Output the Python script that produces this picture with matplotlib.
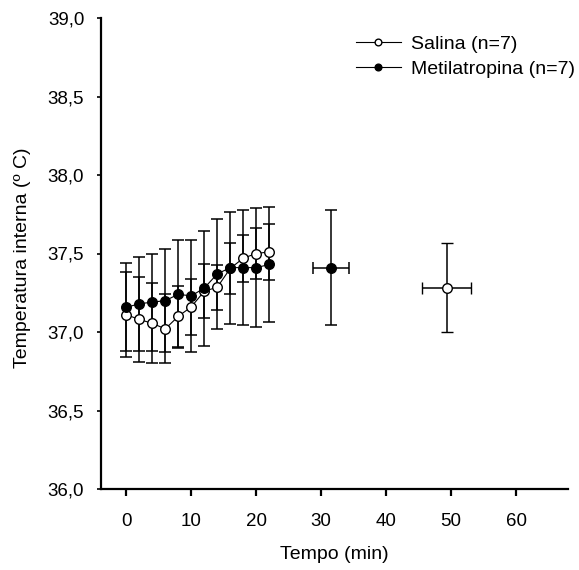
import matplotlib
matplotlib.use('Agg')
import matplotlib.pyplot as plt

plt.rcParams['font.family'] = ['Liberation Sans', 'DejaVu Sans']

# Time course (min)
tempo = [0, 2, 4, 6, 8, 10, 12, 14, 16, 18, 20, 22]

# Salina (n=7): mean and error
salina = [37.11, 37.08, 37.055, 37.02, 37.10, 37.16, 37.26, 37.285, 37.405, 37.47, 37.50, 37.51]
salina_err = [0.27, 0.27, 0.255, 0.22, 0.195, 0.18, 0.17, 0.143, 0.165, 0.15, 0.16, 0.178]

# Metilatropina (n=7): mean and error
metil = [37.157, 37.18, 37.19, 37.20, 37.24, 37.23, 37.28, 37.37, 37.41, 37.41, 37.41, 37.43]
metil_err = [0.28, 0.30, 0.31, 0.33, 0.345, 0.357, 0.366, 0.35, 0.357, 0.366, 0.377, 0.368]

# Separate summary points (x with horizontal error)
metil_extra_x, metil_extra_xerr = 31.5, 2.8
metil_extra_y, metil_extra_yerr = 37.41, 0.364
salina_extra_x, salina_extra_xerr = 49.3, 3.8
salina_extra_y, salina_extra_yerr = 37.283, 0.283

yticks = [36.0, 36.5, 37.0, 37.5, 38.0, 38.5, 39.0]
ytick_labels = ['36,0', '36,5', '37,0', '37,5', '38,0', '38,5', '39,0']
xticks = [0, 10, 20, 30, 40, 50, 60]

fig = plt.figure(figsize=(5.79, 5.70), dpi=100)
ax = fig.add_axes([101 / 579, 1 - 489 / 570, 467 / 579, 471 / 570])

ms = 6.9
eb = dict(ecolor='black', elinewidth=1.1, capsize=4, capthick=1.1)

# error bars first
ax.errorbar(tempo, salina, yerr=salina_err, fmt='none', **eb, zorder=2)
ax.errorbar(tempo, metil, yerr=metil_err, fmt='none', **eb, zorder=2)

ax.plot(tempo, salina, '-o', color='black', lw=0.8, markersize=ms,
        markerfacecolor='white', markeredgecolor='black', markeredgewidth=1.0,
        label='Salina (n=7)', zorder=3)
ax.plot(tempo, metil, '-o', color='black', lw=0.8, markersize=ms,
        markerfacecolor='black', markeredgecolor='black',
        label='Metilatropina (n=7)', zorder=4)

ax.errorbar(metil_extra_x, metil_extra_y, yerr=metil_extra_yerr, xerr=metil_extra_xerr,
            fmt='o', color='black', markersize=ms, markerfacecolor='black', **eb, zorder=4)
ax.errorbar(salina_extra_x, salina_extra_y, yerr=salina_extra_yerr, xerr=salina_extra_xerr,
            fmt='o', color='black', markersize=ms, markerfacecolor='white',
            markeredgewidth=1.0, **eb, zorder=4)

ax.set_xlim(-3.9, 68)
ax.set_ylim(36.0, 39.0)
ax.set_xticks(xticks)
ax.set_yticks(yticks)
ax.set_yticklabels(ytick_labels)

for side in ['top', 'right']:
    ax.spines[side].set_visible(False)
for side in ['left', 'bottom']:
    ax.spines[side].set_linewidth(1.6)

ax.tick_params(axis='y', direction='out', length=3, width=1.2, pad=9, labelsize=13.5)
ax.tick_params(axis='x', direction='out', length=5, width=1.6, pad=12, labelsize=13.5)

ax.set_xlabel('Tempo (min)', fontsize=14)
ax.set_ylabel('Temperatura interna (º C)', fontsize=14)
ax.xaxis.set_label_coords(0.5, -0.12)
ax.yaxis.set_label_coords(-0.15, 0.49)

ax.legend(loc='upper left', bbox_to_anchor=(356 / 579, 1 - 35 / 570),
          bbox_transform=fig.transFigure, frameon=False, fontsize=14,
          handlelength=2.3, handletextpad=0.55, labelspacing=0.4,
          borderpad=0, borderaxespad=0, markerscale=0.7)

fig.savefig('out.png', dpi=100)
